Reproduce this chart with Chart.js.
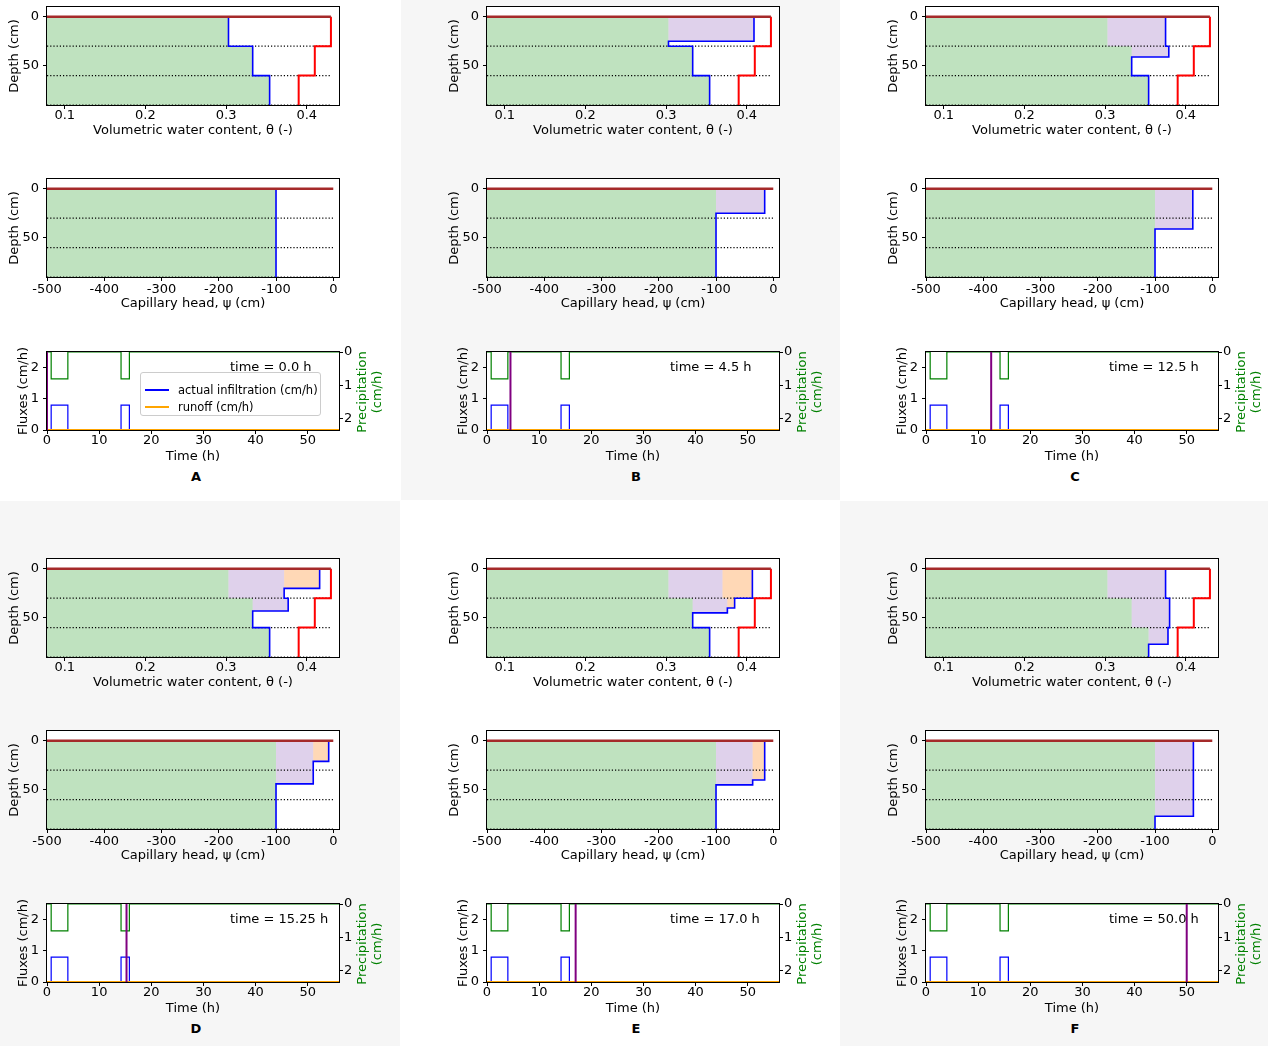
<!DOCTYPE html>
<html>
<head>
<meta charset="utf-8">
<script src="https://cdn.jsdelivr.net/npm/chart.js@4.4.1/dist/chart.umd.min.js"></script>
<style>
  html, body { margin: 0; padding: 0; background: #fff; }
  #fig { position: relative; width: 1268px; height: 1046px; overflow: hidden;
         font-family: 'DejaVu Sans', sans-serif; color: #000; }
  .bg { position: absolute; background: #f6f6f6; }
  canvas.plot { position: absolute; }
  .letter { position: absolute; font-weight: bold; font-size: 13px; transform: translate(-50%, -50%); }
  .time { position: absolute; font-size: 13px; white-space: nowrap; transform: translateY(-50%); }
  .precip { position: absolute; color: #008000; font-size: 13px; line-height: 15px; text-align: center;
            white-space: nowrap; transform: translate(-50%, -50%) rotate(-90deg); }
  .legend { position: absolute; border: 1px solid #cccccc; border-radius: 3px;
            background: rgba(255,255,255,0.85); box-sizing: border-box; font-size: 11.5px; }
  .legend .swatch { position: absolute; height: 2px; }
  .legend .label { position: absolute; white-space: nowrap; transform: translateY(-50%); }
</style>
</head>
<body>
<div id="fig"></div>
<script>
// ---------------- data ----------------
const PANEL_LETTERS = ['A', 'B', 'C', 'D', 'E', 'F'];
const SNAPSHOT_TIMES = [0.0, 4.5, 12.5, 15.25, 17.0, 50.0];
const SNAPSHOT_TIME_LABELS = ['0.0', '4.5', '12.5', '15.25', '17.0', '50.0'];

// soil layers (cm)
const LAYER_TOP = [0, 30, 60];
const LAYER_BOTTOM = [30, 60, 90];
const THETA_SAT = [0.43, 0.41, 0.39];
const THETA_INIT = [0.303, 0.333, 0.354];
const HEAD_INIT = [-100, -100, -100];

// water content profiles: [top, bottom, theta]
const THETA_A = [[0, 30, 0.303], [30, 60, 0.333], [60, 90, 0.354]];
const THETA_B = [[0, 25, 0.409], [25, 30, 0.303], [30, 60, 0.333], [60, 90, 0.354]];
const THETA_C = [[0, 30, 0.375], [30, 41, 0.379], [41, 60, 0.333], [60, 90, 0.354]];
const THETA_D = [[0, 20, 0.416], [20, 30, 0.372], [30, 43, 0.377], [43, 60, 0.333], [60, 90, 0.354]];
const THETA_E = [[0, 30, 0.407], [30, 40, 0.385], [40, 45, 0.376], [45, 60, 0.333], [60, 90, 0.354]];
const THETA_F = [[0, 30, 0.375], [30, 60, 0.380], [60, 77, 0.378], [77, 90, 0.354]];

// water stored by the first rain pulse: [top, bottom, from, to]
const THETA_PULSE1_A = [];
const THETA_PULSE1_B = [[0, 25, 0.303, 0.409]];
const THETA_PULSE1_C = [[0, 30, 0.303, 0.375], [30, 41, 0.333, 0.379]];
const THETA_PULSE1_D = [[0, 30, 0.303, 0.372], [30, 43, 0.333, 0.377]];
const THETA_PULSE1_E = [[0, 30, 0.303, 0.370], [30, 45, 0.333, 0.376]];
const THETA_PULSE1_F = [[0, 30, 0.303, 0.375], [30, 60, 0.333, 0.380], [60, 77, 0.354, 0.378]];
// water stored by the second rain pulse
const THETA_PULSE2_D = [[0, 20, 0.372, 0.416]];
const THETA_PULSE2_E = [[0, 30, 0.370, 0.407], [30, 40, 0.376, 0.385]];

// capillary head profiles: [top, bottom, psi]
const HEAD_A = [[0, 90, -100]];
const HEAD_B = [[0, 25, -15], [25, 90, -100]];
const HEAD_C = [[0, 41, -34], [41, 90, -100]];
const HEAD_D = [[0, 21, -8], [21, 44, -35], [44, 90, -100]];
const HEAD_E = [[0, 40, -15], [40, 45, -36], [45, 90, -100]];
const HEAD_F = [[0, 77, -33], [77, 90, -100]];

const HEAD_PULSE1_B = [[0, 25, -100, -15]];
const HEAD_PULSE1_C = [[0, 41, -100, -34]];
const HEAD_PULSE1_D = [[0, 44, -100, -35]];
const HEAD_PULSE1_E = [[0, 45, -100, -36]];
const HEAD_PULSE1_F = [[0, 77, -100, -33]];
const HEAD_PULSE2_D = [[0, 21, -35, -8]];
const HEAD_PULSE2_E = [[0, 40, -36, -15]];

// boundary fluxes (h, cm/h)
const PRECIP_TIME = [0, 0.8, 0.8, 4.0, 4.0, 14.2, 14.2, 15.8, 15.8, 56];
const PRECIP_RATE = [0, 0, 0.8, 0.8, 0, 0, 0.8, 0.8, 0, 0];
const INFIL_TIME = [0, 0.8, 0.8, 4.0, 4.0, 14.2, 14.2, 15.8, 15.8, 56];
const INFIL_RATE = [0, 0, 0.8, 0.8, 0, 0, 0.8, 0.8, 0, 0];
const RUNOFF_TIME = [0, 56];
const RUNOFF_RATE = [0, 0];

// tick labels
const THETA_TICKS = [0.1, 0.2, 0.3, 0.4];
const THETA_TICK_LABELS = ['0.1', '0.2', '0.3', '0.4'];
const HEAD_TICKS = [-500, -400, -300, -200, -100, 0];
const HEAD_TICK_LABELS = ['-500', '-400', '-300', '-200', '-100', '0'];
const DEPTH_TICKS = [0, 50];
const DEPTH_TICK_LABELS = ['0', '50'];
const TIME_TICKS = [0, 10, 20, 30, 40, 50];
const TIME_TICK_LABELS = ['0', '10', '20', '30', '40', '50'];
const FLUX_TICKS = [0, 1, 2];
const FLUX_TICK_LABELS = ['0', '1', '2'];
const PRECIP_TICKS = [0, 1, 2];
const PRECIP_TICK_LABELS = ['0', '1', '2'];

const THETA_PROFILES = [THETA_A, THETA_B, THETA_C, THETA_D, THETA_E, THETA_F];
const THETA_PULSE1 = [THETA_PULSE1_A, THETA_PULSE1_B, THETA_PULSE1_C, THETA_PULSE1_D, THETA_PULSE1_E, THETA_PULSE1_F];
const THETA_PULSE2 = [[], [], [], THETA_PULSE2_D, THETA_PULSE2_E, []];
const HEAD_PROFILES = [HEAD_A, HEAD_B, HEAD_C, HEAD_D, HEAD_E, HEAD_F];
const HEAD_PULSE1 = [[], HEAD_PULSE1_B, HEAD_PULSE1_C, HEAD_PULSE1_D, HEAD_PULSE1_E, HEAD_PULSE1_F];
const HEAD_PULSE2 = [[], [], [], HEAD_PULSE2_D, HEAD_PULSE2_E, []];

// ---------------- axis limits ----------------
const THETA_MIN = 0.078, THETA_MAX = 0.44;
const HEAD_MIN = -500, HEAD_MAX = 10;
const DEPTH_MIN = -10, DEPTH_MAX = 90;
const TIME_MIN = 0, TIME_MAX = 56;
const FLUX_MIN = 0, FLUX_MAX = 2.5;
const PRECIP_AXIS_MAX = 2.33;

// ---------------- styling ----------------
const C_INIT_FILL = 'rgba(44,160,44,0.3)';
const C_PULSE1_FILL = 'rgba(148,103,189,0.3)';
const C_PULSE2_FILL = 'rgba(255,127,14,0.3)';
const C_PROFILE = '#0000ff';
const C_SAT = '#ff0000';
const C_SURFACE = '#a52a2a';
const C_PRECIP = '#008000';
const C_RUNOFF = '#ffa500';
const C_NOW = '#800080';

Chart.defaults.font.family = "'DejaVu Sans', sans-serif";
Chart.defaults.font.size = 13;
Chart.defaults.color = '#000';

const fig = document.getElementById('fig');

// panel placement and shaded panel backgrounds
const PANEL_ORIGINS = [[0, 0], [440, 0], [879, 0], [0, 552], [440, 552], [879, 552]];
[[401, 0, 439, 500], [0, 501, 400, 545], [840, 501, 428, 545]].forEach(([x, y, w, h]) => {
  const d = document.createElement('div');
  d.className = 'bg';
  Object.assign(d.style, { left: x + 'px', top: y + 'px', width: w + 'px', height: h + 'px' });
  fig.appendChild(d);
});

// ---------------- helpers ----------------
function stepLine(profile) {
  const pts = [];
  profile.forEach(([top, bottom, v]) => { pts.push({ x: v, y: top }, { x: v, y: bottom }); });
  return pts;
}
function region(segs) {
  const inner = [], outer = [];
  segs.forEach(([top, bottom, from, to]) => {
    inner.push({ x: from, y: top }, { x: from, y: bottom });
    outer.push({ x: to, y: top }, { x: to, y: bottom });
  });
  return inner.concat(outer.reverse());
}
function series(xs, ys) { return xs.map((x, i) => ({ x, y: ys[i] })); }

function lineSet(data, color, width, order, extra) {
  return Object.assign({ data, showLine: true, borderColor: color, borderWidth: width,
    pointRadius: 0, fill: false, order, tension: 0 }, extra || {});
}
function fillSet(data, color, order) {
  return { data, showLine: true, borderColor: 'rgba(0,0,0,0)', borderWidth: 1, backgroundColor: color,
    pointRadius: 0, fill: 'shape', order, tension: 0 };
}

function axis(opts) {
  return {
    type: 'linear', position: opts.position, min: opts.min, max: opts.max, reverse: !!opts.reverse,
    grid: { display: true, drawOnChartArea: false, drawTicks: true, tickLength: 4, color: '#000', lineWidth: 1 },
    border: { display: false },
    ticks: { color: '#000', padding: opts.tickPad, autoSkip: false, maxRotation: 0,
             callback: (v, i) => opts.labels[i] },
    afterBuildTicks: s => { s.ticks = opts.ticks.map(v => ({ value: v })); },
    afterFit: s => {
      opts.fit(s);
      // keep the plotting area exactly where the layout puts it
      s.paddingTop = 0; s.paddingBottom = 0; s.paddingLeft = 0; s.paddingRight = 0;
    },
    title: opts.title ? { display: true, text: opts.title, color: '#000', padding: opts.titlePad } : { display: false }
  };
}

const framePlugin = {
  id: 'frame',
  beforeDraw(chart) {
    const { ctx, chartArea: a } = chart;
    ctx.save();
    ctx.fillStyle = '#ffffff';
    ctx.fillRect(a.left, a.top, a.width, a.height);
    ctx.restore();
  },
  beforeDatasetsDraw(chart) {
    const { ctx, chartArea: a } = chart;
    ctx.save();
    ctx.strokeStyle = '#000';
    ctx.lineWidth = 1;
    ctx.strokeRect(a.left - 0.5, a.top - 0.5, a.width + 1, a.height + 1);
    ctx.restore();
  }
};

function makeChart(ox, oy, box, area, scales, datasets) {
  const cv = document.createElement('canvas');
  cv.className = 'plot';
  cv.width = box.w; cv.height = box.h;
  cv.style.left = (ox + box.x) + 'px';
  cv.style.top = (oy + box.y) + 'px';
  cv.style.width = box.w + 'px';
  cv.style.height = box.h + 'px';
  fig.appendChild(cv);
  return new Chart(cv.getContext('2d'), {
    type: 'scatter',
    data: { datasets },
    options: {
      responsive: false, animation: false, devicePixelRatio: 1, events: [],
      layout: { padding: { left: 0, top: area.top, right: scales.y2 ? 0 : box.w - area.right, bottom: 0 } },
      plugins: { legend: { display: false }, tooltip: { enabled: false } },
      scales
    },
    plugins: [framePlugin]
  });
}

// subplot boxes inside a panel (canvas box, then plotting area relative to it)
const THETA_BOX = { x: 0, y: 0, w: 392, h: 145 }, THETA_AREA = { left: 47, top: 7, right: 339, bottom: 105 };
const HEAD_BOX = { x: 0, y: 170, w: 392, h: 145 }, HEAD_AREA = { left: 47, top: 9, right: 339, bottom: 107 };
const FLUX_BOX = { x: 0, y: 345, w: 392, h: 120 }, FLUX_AREA = { left: 47, top: 7, right: 339, bottom: 85 };

function depthAxis(area) {
  return axis({ position: 'left', min: DEPTH_MIN, max: DEPTH_MAX, reverse: true, ticks: DEPTH_TICKS,
    labels: DEPTH_TICK_LABELS, tickPad: 4, title: 'Depth (cm)', titlePad: { top: 7.2, bottom: 0 },
    fit: s => { s.width = area.left; } });
}

// ---------------- draw the six snapshots ----------------
PANEL_LETTERS.forEach((letter, p) => {
  const [ox, oy] = PANEL_ORIGINS[p];
  const layerDepths = LAYER_BOTTOM;

  // water content profile
  const thetaSets = [];
  thetaSets.push(fillSet(region(LAYER_TOP.map((t, i) => [t, LAYER_BOTTOM[i], THETA_MIN, THETA_INIT[i]])), C_INIT_FILL, 20));
  if (THETA_PULSE1[p].length) thetaSets.push(fillSet(region(THETA_PULSE1[p]), C_PULSE1_FILL, 19));
  if (THETA_PULSE2[p].length) thetaSets.push(fillSet(region(THETA_PULSE2[p]), C_PULSE2_FILL, 18));
  layerDepths.forEach(d => thetaSets.push(lineSet([{ x: THETA_MIN, y: d }, { x: Math.max(...THETA_SAT), y: d }],
    '#000', 1.2, 10, { borderDash: [1.2, 2] })));
  thetaSets.push(lineSet(stepLine(LAYER_TOP.map((t, i) => [t, LAYER_BOTTOM[i], THETA_SAT[i]])), C_SAT, 2, 4));
  thetaSets.push(lineSet(stepLine(THETA_PROFILES[p]), C_PROFILE, 1.6, 3));
  thetaSets.push(lineSet([{ x: THETA_MIN, y: 0 }, { x: THETA_SAT[0], y: 0 }], C_SURFACE, 2.4, 2));

  makeChart(ox, oy, THETA_BOX, THETA_AREA, {
    x: axis({ position: 'bottom', min: THETA_MIN, max: THETA_MAX, ticks: THETA_TICKS, labels: THETA_TICK_LABELS,
      tickPad: -1, title: 'Volumetric water content, θ (-)', titlePad: { top: 0, bottom: 6.2 },
      fit: s => { s.height = THETA_BOX.h - THETA_AREA.bottom; } }),
    y: depthAxis(THETA_AREA)
  }, thetaSets);

  // capillary head profile
  const headSets = [];
  headSets.push(fillSet(region(LAYER_TOP.map((t, i) => [t, LAYER_BOTTOM[i], HEAD_MIN, HEAD_INIT[i]])), C_INIT_FILL, 20));
  if (HEAD_PULSE1[p].length) headSets.push(fillSet(region(HEAD_PULSE1[p]), C_PULSE1_FILL, 19));
  if (HEAD_PULSE2[p].length) headSets.push(fillSet(region(HEAD_PULSE2[p]), C_PULSE2_FILL, 18));
  layerDepths.forEach(d => headSets.push(lineSet([{ x: HEAD_MIN, y: d }, { x: 0, y: d }],
    '#000', 1.2, 10, { borderDash: [1.2, 2] })));
  headSets.push(lineSet(stepLine(HEAD_PROFILES[p]), C_PROFILE, 1.6, 3));
  headSets.push(lineSet([{ x: HEAD_MIN, y: 0 }, { x: 0, y: 0 }], C_SURFACE, 2.4, 2));

  makeChart(ox, oy, HEAD_BOX, HEAD_AREA, {
    x: axis({ position: 'bottom', min: HEAD_MIN, max: HEAD_MAX, ticks: HEAD_TICKS, labels: HEAD_TICK_LABELS,
      tickPad: 1, title: 'Capillary head, ψ (cm)', titlePad: { top: 0, bottom: 3.2 },
      fit: s => { s.height = HEAD_BOX.h - HEAD_AREA.bottom; } }),
    y: depthAxis(HEAD_AREA)
  }, headSets);

  // boundary fluxes
  const t = SNAPSHOT_TIMES[p];
  const fluxSets = [
    lineSet(series(PRECIP_TIME, PRECIP_RATE), C_PRECIP, 1.2, 5, { yAxisID: 'y2' }),
    lineSet(series(INFIL_TIME, INFIL_RATE), C_PROFILE, 1.2, 4),
    lineSet(series(RUNOFF_TIME, RUNOFF_RATE), C_RUNOFF, 2, 3),
    lineSet([{ x: t, y: FLUX_MIN }, { x: t, y: FLUX_MAX }], C_NOW, 2, 1)
  ];
  makeChart(ox, oy, FLUX_BOX, FLUX_AREA, {
    x: axis({ position: 'bottom', min: TIME_MIN, max: TIME_MAX, ticks: TIME_TICKS, labels: TIME_TICK_LABELS,
      tickPad: -1, title: 'Time (h)', titlePad: { top: 0, bottom: 0.2 },
      fit: s => { s.height = FLUX_BOX.h - FLUX_AREA.bottom; } }),
    y: axis({ position: 'left', min: FLUX_MIN, max: FLUX_MAX, ticks: FLUX_TICKS, labels: FLUX_TICK_LABELS,
      tickPad: 4, title: 'Fluxes (cm/h)', titlePad: { top: 16.2, bottom: 0 },
      fit: s => { s.width = FLUX_AREA.left; } }),
    y2: axis({ position: 'right', min: 0, max: PRECIP_AXIS_MAX, reverse: true, ticks: PRECIP_TICKS,
      labels: PRECIP_TICK_LABELS, tickPad: 1,
      fit: s => { s.width = FLUX_BOX.w - FLUX_AREA.right; } })
  }, fluxSets);

  // text overlays
  const tm = document.createElement('div');
  tm.className = 'time';
  tm.textContent = 'time = ' + SNAPSHOT_TIME_LABELS[p] + ' h';
  Object.assign(tm.style, { left: (ox + 230) + 'px', top: (oy + 366) + 'px' });
  fig.appendChild(tm);

  const pr = document.createElement('div');
  pr.className = 'precip';
  pr.innerHTML = 'Precipitation<br>(cm/h)';
  Object.assign(pr.style, { left: (ox + 368.5) + 'px', top: (oy + 392) + 'px' });
  fig.appendChild(pr);

  const lt = document.createElement('div');
  lt.className = 'letter';
  lt.textContent = letter;
  Object.assign(lt.style, { left: (ox + 196) + 'px', top: (oy + 476) + 'px' });
  fig.appendChild(lt);

  if (p === 0) {
    const lg = document.createElement('div');
    lg.className = 'legend';
    Object.assign(lg.style, { left: (ox + 140) + 'px', top: (oy + 372) + 'px', width: '181px', height: '44px' });
    [['actual infiltration (cm/h)', C_PROFILE, 17], ['runoff (cm/h)', C_RUNOFF, 33.5]].forEach(([txt, col, cy]) => {
      const sw = document.createElement('div');
      sw.className = 'swatch';
      Object.assign(sw.style, { left: '4px', width: '24px', top: (cy - 1) + 'px', background: col });
      const lb = document.createElement('div');
      lb.className = 'label';
      lb.textContent = txt;
      Object.assign(lb.style, { left: '37px', top: cy + 'px' });
      lg.appendChild(sw); lg.appendChild(lb);
    });
    fig.appendChild(lg);
  }
});
</script>
</body>
</html>
